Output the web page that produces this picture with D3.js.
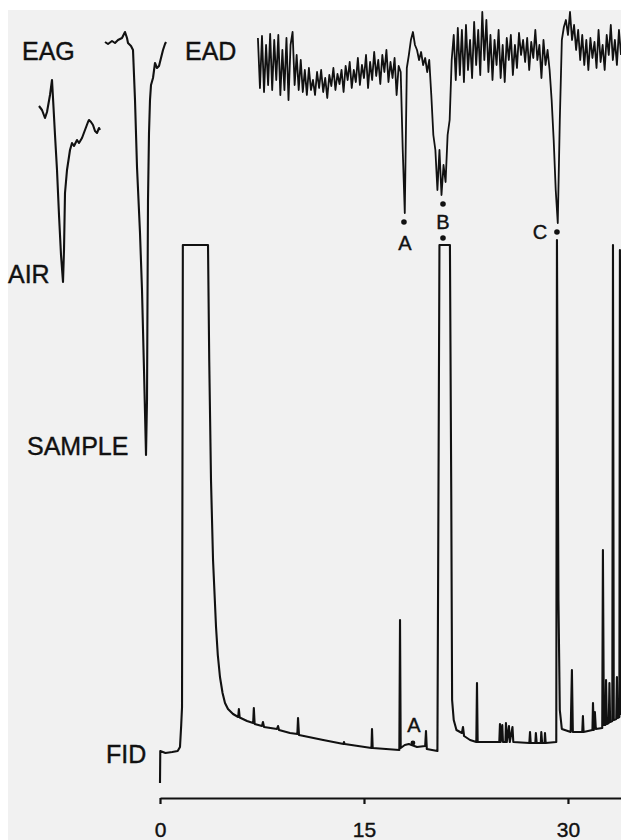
<!DOCTYPE html>
<meta charset="utf-8">
<head>
    <script src="https://d3js.org/d3.v7.min.js"></script>
    <style>
        body { margin: 0; background: #fff; }
        text { font-family: "Liberation Sans", Arial, sans-serif; fill: #111; stroke: #111; stroke-width: 0.4px; }
    </style>
</head>

<body>
    <div id="svg-container"></div>
</body>

<script>

const width = 621;
const height = 840;

// retention time axis (min)
const timeTicks = [0, 15, 30];

// EAD trace (mV), one reading every 0.15 min starting at 7.2 min
const eadStart = 7.2;
const eadStep = 0.15;
const eadValues = [
    -0.28, -0.78, -0.26, -0.82, -0.35, -0.75, -0.24, -0.80, -0.30, -0.70,
    -0.25, -0.85, -0.40, -0.80, -0.28, -0.90, -0.35, -0.22, -0.75, -0.45,
    -0.80, -0.50, -0.82, -0.60, -0.85, -0.58, -0.80, -0.70, -0.85, -0.62,
    -0.78, -0.60, -0.82, -0.68, -0.88, -0.65, -0.76, -0.58, -0.80, -0.64,
    -0.74, -0.60, -0.82, -0.56, -0.70, -0.52, -0.78, -0.60, -0.72, -0.48,
    -0.75, -0.55, -0.68, -0.45, -0.78, -0.52, -0.70, -0.42, -0.66, -0.50,
    -0.74, -0.45, -0.62, -0.40, -0.72, -0.52, -0.68, -0.48, -0.85, -0.56,
    -0.62, -1.40, -2.03, -0.58, -0.45, -0.30, -0.22, -0.35, -0.40, -0.50,
    -0.42, -0.55, -0.48, -0.62, -0.50, -0.85, -1.25, -1.40, -1.80, -1.40,
    -1.85, -1.55, -1.72, -1.25, -1.10, -0.50, -0.25, -0.70, -0.18, -0.65,
    -0.20, -0.72, -0.15, -0.60, -0.30, -0.68, -0.12, -0.55, -0.20, -0.65,
    -0.02, -0.50, -0.10, -0.62, -0.25, -0.70, -0.30, -0.55, -0.20, -0.68,
    -0.35, -0.72, -0.28, -0.50, -0.25, -0.65, -0.35, -0.58, -0.23, -0.45,
    -0.30, -0.52, -0.28, -0.60, -0.32, -0.48, -0.20, -0.50, -0.35, -0.68,
    -0.30, -0.55, -0.40, -0.60, -0.90, -1.30, -1.80, -2.13, -1.10, -0.30,
    -0.17, -0.10, -0.25, -0.02, -0.30, -0.15, -0.40, -0.20, -0.50, -0.25,
    -0.55, -0.30, -0.60, -0.28, -0.48, -0.32, -0.58, -0.20, -0.52, -0.35,
    -0.60, -0.25, -0.45, -0.15, -0.50, -0.30, -0.55, -0.20, -0.45
];

// FID trace: [time (min), signal (mV)]; 111 = detector saturated
const fidPoints = [
    [0.00, 3.4], [0.02, 9.8], [0.40, 9.4], [0.90, 9.6], [1.30, 9.8], [1.47, 10.6],
    [1.56, 15.0], [1.62, 18.6], [1.68, 111], [3.53, 111], [3.62, 88], [3.75, 64],
    [3.90, 48], [4.12, 34.6], [4.25, 29], [4.41, 24.6], [4.60, 21.4], [4.78, 19.4],
    [5.00, 18.2], [5.37, 17.2], [5.75, 16.6], [5.80, 18.2], [5.86, 16.5], [6.40, 15.8],
    [6.85, 15.4], [6.90, 18.4], [6.96, 15.2], [7.50, 14.8], [7.57, 15.6], [7.65, 14.6],
    [8.60, 14.2], [8.68, 14.8], [8.75, 14.0], [9.56, 13.4], [10.10, 13.2], [10.15, 16.4],
    [10.22, 13.0], [12.00, 12.0], [13.50, 11.2], [13.53, 11.6], [13.58, 11.2],
    [15.55, 10.4], [15.59, 14.2], [15.64, 10.4], [17.60, 10.0], [17.65, 36], [17.70, 10.4],
    [18.00, 11.0], [18.30, 11.2], [18.90, 10.6], [19.50, 10.8], [19.56, 13.8], [19.62, 10.2],
    [20.40, 9.8], [20.55, 111], [21.32, 111], [21.42, 60], [21.48, 20], [21.60, 16],
    [21.80, 14.0], [22.20, 13.4], [22.28, 14.6], [22.36, 12.8], [22.80, 12.0], [23.26, 11.6],
    [23.31, 23.4], [23.36, 11.6], [24.95, 11.6], [25.00, 15.2], [25.05, 11.6], [25.17, 15.0],
    [25.22, 11.6], [25.40, 11.6], [25.44, 15.4], [25.50, 11.6], [25.66, 14.8], [25.72, 11.6],
    [25.92, 14.6], [25.98, 11.6], [27.16, 11.4], [27.21, 13.6], [27.26, 11.4], [27.60, 11.4],
    [27.64, 13.4], [27.70, 11.4], [28.00, 11.4], [28.04, 13.6], [28.10, 11.4], [28.28, 11.4],
    [28.31, 13.4], [28.36, 11.4], [29.14, 11.6], [29.19, 112], [29.30, 40], [29.40, 18],
    [29.55, 14.2], [30.20, 13.6], [30.29, 26], [30.36, 13.6], [31.05, 13.6], [31.10, 16.8],
    [31.15, 13.6], [31.80, 14.0], [31.84, 19.4], [31.90, 14.0], [31.98, 17.6], [32.05, 14.2],
    [32.52, 14.4], [32.57, 50], [32.64, 15.0], [32.75, 15.0], [32.80, 24], [32.86, 15.2],
    [33.00, 15.4], [33.05, 23.4], [33.10, 15.6], [33.26, 15.8], [33.31, 111], [33.37, 16.0],
    [33.55, 16.2], [33.60, 24.6], [33.65, 16.4], [33.78, 16.6], [33.82, 110], [33.90, 17.0]
];

// EAG responses: [time (s), mV]
const airPoints = [
    [0.0, -0.76], [0.3, -0.80], [0.6, -0.88], [0.8, -0.82], [1.1, -0.65], [1.3, -0.50],
    [1.4, -0.68], [1.6, -1.05], [1.8, -1.40], [2.0, -1.85], [2.2, -2.25], [2.4, -2.52],
    [2.5, -2.20], [2.6, -1.63], [2.8, -1.40], [3.1, -1.20], [3.3, -1.13], [3.5, -1.16],
    [3.8, -1.10], [4.0, -1.13], [4.3, -1.08], [4.6, -1.00], [4.9, -0.92], [5.0, -0.90],
    [5.2, -0.92], [5.4, -0.95], [5.6, -1.01], [5.8, -1.03], [6.0, -0.98], [6.1, -1.00]
];
const samplePoints = [
    [6.6, -0.12], [6.9, -0.14], [7.3, -0.11], [7.6, -0.13], [7.9, -0.10], [8.3, -0.08],
    [8.6, -0.02], [8.8, -0.08], [8.9, -0.13], [9.2, -0.16], [9.4, -0.20], [9.6, -0.70],
    [9.8, -1.37], [10.1, -2.03], [10.3, -2.60], [10.5, -3.40], [10.7, -4.25], [10.8, -3.70],
    [10.85, -2.70], [10.9, -1.70], [11.0, -1.03], [11.1, -0.70], [11.2, -0.55], [11.4, -0.48],
    [11.6, -0.33], [11.8, -0.38], [12.0, -0.36], [12.2, -0.28], [12.4, -0.20], [12.6, -0.14],
    [12.7, -0.12]
];

// active compounds
const eadMarks = [
    { label: "A", t: 17.94 },
    { label: "B", t: 20.81 },
    { label: "C", t: 29.19 }
];
const fidMarks = [{ label: "A", t: 18.6, v: 11.4 }];

const x = d3.scaleLinear().domain([0, 33.9]).range([160, 621]);
const yEad = d3.scaleLinear().domain([0, -2.3]).range([10, 240]);
const yFid = d3.scaleLinear().domain([0, 113]).range([800, 235]);
const xEag = d3.scaleLinear().domain([0, 12.7]).range([39, 166]);
const yEag = d3.scaleLinear().domain([0, -4.5]).range([30, 480]);

const svg = d3.select("#svg-container")
              .append("svg")
                .attr("width", width)
                .attr("height", height);

svg.append("rect")
    .attr("x", 8).attr("y", 10)
    .attr("width", width - 8).attr("height", height - 10)
    .attr("fill", "#f1f1f1");

function drawTrace(points, xs, ys, w) {
    const line = d3.line()
                   .x(function(d) { return xs(d[0]); })
                   .y(function(d) { return ys(d[1]); });
    svg.append("path")
        .datum(points)
        .attr("d", line)
        .attr("fill", "none")
        .attr("stroke", "#111")
        .attr("stroke-width", w)
        .attr("stroke-linejoin", "round");
}

const eadPoints = eadValues.map(function(v, i) { return [eadStart + i * eadStep, v]; });

drawTrace(eadPoints, x, yEad, 1.8);
drawTrace(fidPoints, x, yFid, 2.1);
drawTrace(airPoints, xEag, yEag, 2.1);
drawTrace(samplePoints, xEag, yEag, 2.1);

// trace names
const names = [
    { text: "EAG", x: 22, y: 60 },
    { text: "EAD", x: 185, y: 60 },
    { text: "AIR", x: 8, y: 283 },
    { text: "SAMPLE", x: 27, y: 455 },
    { text: "FID", x: 106, y: 763 }
];
svg.selectAll(".name")
    .data(names).enter()
    .append("text")
        .attr("class", "name")
        .attr("x", function(d) { return d.x; })
        .attr("y", function(d) { return d.y; })
        .style("font-size", "25px")
        .text(function(d) { return d.text; });

// EAD marks: dot under the dip, letter underneath
eadMarks.forEach(function(m) {
    const near = eadPoints.filter(function(p) { return Math.abs(p[0] - m.t) < 0.35; });
    const dipY = yEad(d3.min(near, function(p) { return p[1]; })) + 9;
    const cx = x(m.t);
    svg.append("circle").attr("cx", cx).attr("cy", dipY).attr("r", 2.8).attr("fill", "#111");
    if (m.label === "A") {
        svg.append("text").attr("x", cx + 1).attr("y", dipY + 28)
            .attr("text-anchor", "middle").style("font-size", "20px").text(m.label);
    } else if (m.label === "B") {
        svg.append("text").attr("x", cx).attr("y", dipY + 25)
            .attr("text-anchor", "middle").style("font-size", "20px").text(m.label);
        svg.append("circle").attr("cx", cx).attr("cy", dipY + 34).attr("r", 2.8).attr("fill", "#111");
    } else {
        svg.append("text").attr("x", cx - 17).attr("y", dipY + 7)
            .attr("text-anchor", "middle").style("font-size", "20px").text(m.label);
    }
});

fidMarks.forEach(function(m) {
    svg.append("circle").attr("cx", x(m.t)).attr("cy", yFid(m.v)).attr("r", 2.4).attr("fill", "#111");
    svg.append("text").attr("x", x(m.t) + 1).attr("y", yFid(m.v) - 11)
        .attr("text-anchor", "middle").style("font-size", "20px").text(m.label);
});

// time axis
const axis = d3.axisBottom(x)
               .tickValues(timeTicks)
               .tickSize(6)
               .tickSizeOuter(0)
               .tickPadding(18);

const gAxis = svg.append("g")
                 .attr("transform", "translate(0,798)")
                 .call(axis);
gAxis.select(".domain").attr("stroke", "#111").attr("stroke-width", 2.2);
gAxis.selectAll(".tick line").attr("stroke", "#111").attr("stroke-width", 2.2);
gAxis.selectAll(".tick text")
    .attr("fill", "#111")
    .style("font-family", "\"Liberation Sans\", Arial, sans-serif")
    .style("font-size", "21px");

</script>
